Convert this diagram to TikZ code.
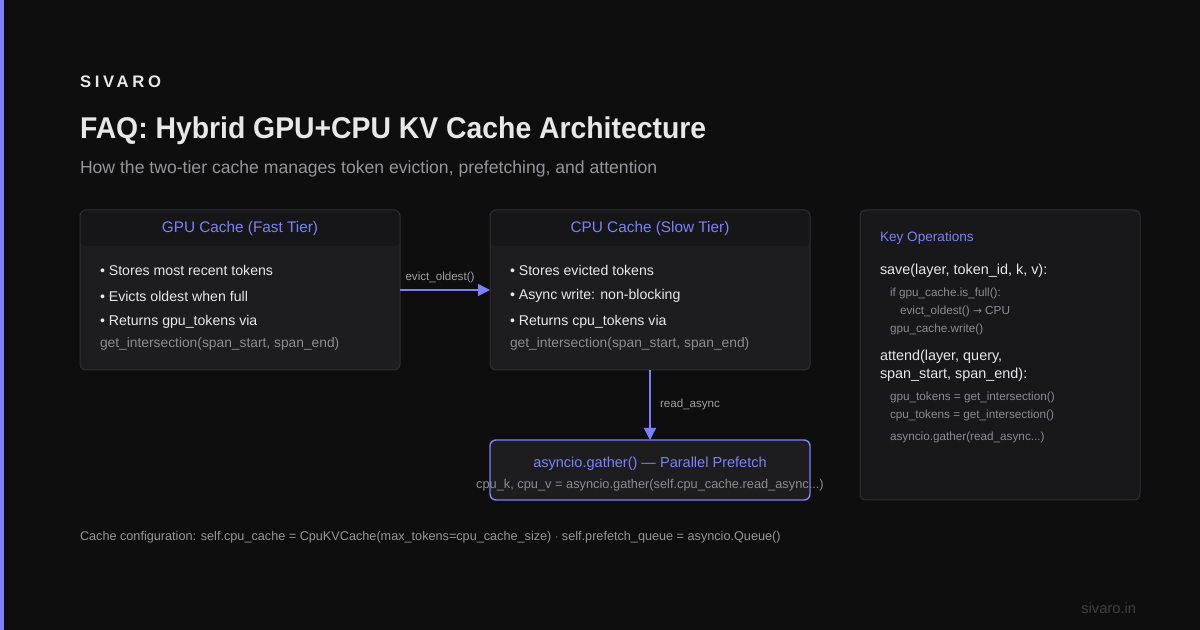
\documentclass[tikz,border=0pt]{standalone}
\usepackage{fontspec}
\setmainfont{Liberation Sans}
\newfontfamily\titlefont[FakeStretch=0.945]{Liberation Sans}
\newfontfamily\brandfont[LetterSpace=22]{Liberation Sans}
\newfontfamily\arrowfont{DejaVu Sans}
\usepackage{xcolor}
\usepackage{tikz}
\usetikzlibrary{arrows.meta,positioning}

\definecolor{bgc}{RGB}{14,14,15}
\definecolor{accent}{RGB}{124,129,246}
\definecolor{cardfill}{RGB}{29,29,32}
\definecolor{headfill}{RGB}{22,22,24}
\definecolor{opsfill}{RGB}{24,24,27}
\definecolor{cardline}{RGB}{46,46,50}
\definecolor{txtwhite}{RGB}{232,232,234}
\definecolor{subgray}{RGB}{150,150,154}
\definecolor{codegray}{RGB}{140,140,145}
\definecolor{labelgray}{RGB}{160,160,165}
\definecolor{dimgray}{RGB}{64,64,68}

\begin{document}
\begin{tikzpicture}[x=0.75pt, y=-0.75pt,
  every node/.style={inner sep=0pt, outer sep=0pt, text=txtwhite},
  card/.style={draw=cardline, line width=0.75pt, fill=cardfill, rounded corners=4.5pt},
  headcard/.style={card, path picture={\fill[headfill] (path picture bounding box.north west) rectangle ([yshift=-27pt]path picture bounding box.north east);}},
  cardtitle/.style={text=accent, font=\fontsize{11.5}{13}\selectfont},
  bullet/.style={anchor=west, font=\fontsize{10.6}{12}\selectfont},
  codeline/.style={anchor=west, text=codegray, font=\fontsize{10.35}{12}\selectfont},
  opline/.style={anchor=west, font=\fontsize{10.8}{12}\selectfont},
  smallcode/.style={anchor=west, text=codegray, font=\fontsize{8.8}{10}\selectfont},
  flow/.style={draw=accent, line width=1.1pt, -{Triangle[length=9pt,width=9pt]}},
  flowlabel/.style={text=labelgray, font=\fontsize{8.7}{10}\selectfont}
]
\useasboundingbox (0,0) rectangle (1200,630);
\fill[bgc] (0,0) rectangle (1200,630);
\fill[accent] (0,0) rectangle (4,630);

%header
\node[anchor=west, font=\brandfont\bfseries\fontsize{12.5}{14}\selectfont] (brand) at (80,82) {SIVARO};
\node[anchor=west, font=\titlefont\bfseries\fontsize{22.5}{26}\selectfont] (title) at (80,131) {FAQ: Hybrid GPU+CPU KV Cache Architecture};
\node[anchor=west, text=subgray, font=\fontsize{13.2}{15}\selectfont] (subtitle) at (80,169) {How the two-tier cache manages token eviction, prefetching, and attention};

%GPU cache
\node[headcard, minimum width=240pt, minimum height=120pt] (gpu) at (240,290) {};
\node[cardtitle] (gputitle) at (240,229) {GPU Cache (Fast Tier)};
\node[bullet] (gpu1) at (100,270) {\textbullet\ Stores most recent tokens};
\node[bullet] (gpu2) at (100,296) {\textbullet\ Evicts oldest when full};
\node[bullet] (gpu3) at (100,322) {\textbullet\ Returns gpu\_tokens via};
\node[codeline] (gpu4) at (100,344) {get\_intersection(span\_start, span\_end)};

%CPU cache
\node[headcard, minimum width=240pt, minimum height=120pt] (cpu) at (650,290) {};
\node[cardtitle] (cputitle) at (650,229) {CPU Cache (Slow Tier)};
\node[bullet] (cpu1) at (510,270) {\textbullet\ Stores evicted tokens};
\node[bullet] (cpu2) at (510,296) {\textbullet\ Async write: non-blocking};
\node[bullet] (cpu3) at (510,322) {\textbullet\ Returns cpu\_tokens via};
\node[codeline] (cpu4) at (510,344) {get\_intersection(span\_start, span\_end)};

%prefetch
\node[card, draw=accent, line width=1.1pt, minimum width=240pt, minimum height=45pt] (prefetch) at (650,470) {};
\node[cardtitle, font=\fontsize{10.9}{13}\selectfont] (preftitle) at (650,464) {asyncio.gather() --- Parallel Prefetch};
\node[text=codegray, font=\fontsize{9.6}{11}\selectfont] (prefcode) at (650,485) {cpu\_k, cpu\_v = asyncio.gather(self.cpu\_cache.read\_async...)};

%arrows
\draw[flow] (gpu.east) -- (cpu.west) node[flowlabel, midway, above=5pt, xshift=-3.75pt] {evict\_oldest()};
\draw[flow] (cpu.south) -- (prefetch.north) node[flowlabel, midway, right=7.5pt] {read\_async};

%key operations
\node[card, fill=opsfill, minimum width=210pt, minimum height=217.5pt] (ops) at (1000,355) {};
\node[anchor=west, text=accent, font=\fontsize{10.2}{12}\selectfont] (opstitle) at (880,238) {Key Operations};
\node[opline] (op1) at (880,271) {save(layer, token\_id, k, v):};
\node[smallcode] (op2) at (890,293) {if gpu\_cache.is\_full():};
\node[smallcode] (op3) at (900,311) {evict\_oldest() {\arrowfont\fontsize{8}{10}\selectfont →} CPU};
\node[smallcode] (op4) at (890,329) {gpu\_cache.write()};
\node[opline] (op5) at (880,357) {attend(layer, query,};
\node[opline] (op6) at (880,375) {span\_start, span\_end):};
\node[smallcode] (op7) at (890,397) {gpu\_tokens = get\_intersection()};
\node[smallcode] (op8) at (890,415) {cpu\_tokens = get\_intersection()};
\node[smallcode] (op9) at (890,437) {asyncio.gather(read\_async...)};

%footer
\node[anchor=west, text=subgray, font=\fontsize{9.5}{11}\selectfont] (config) at (80,537) {Cache configuration: self.cpu\_cache = CpuKVCache(max\_tokens=cpu\_cache\_size) $\cdot$ self.prefetch\_queue = asyncio.Queue()};
\node[anchor=east, text=dimgray, font=\fontsize{11}{12}\selectfont] (site) at (1136,608) {sivaro.in};
\end{tikzpicture}
\end{document}
